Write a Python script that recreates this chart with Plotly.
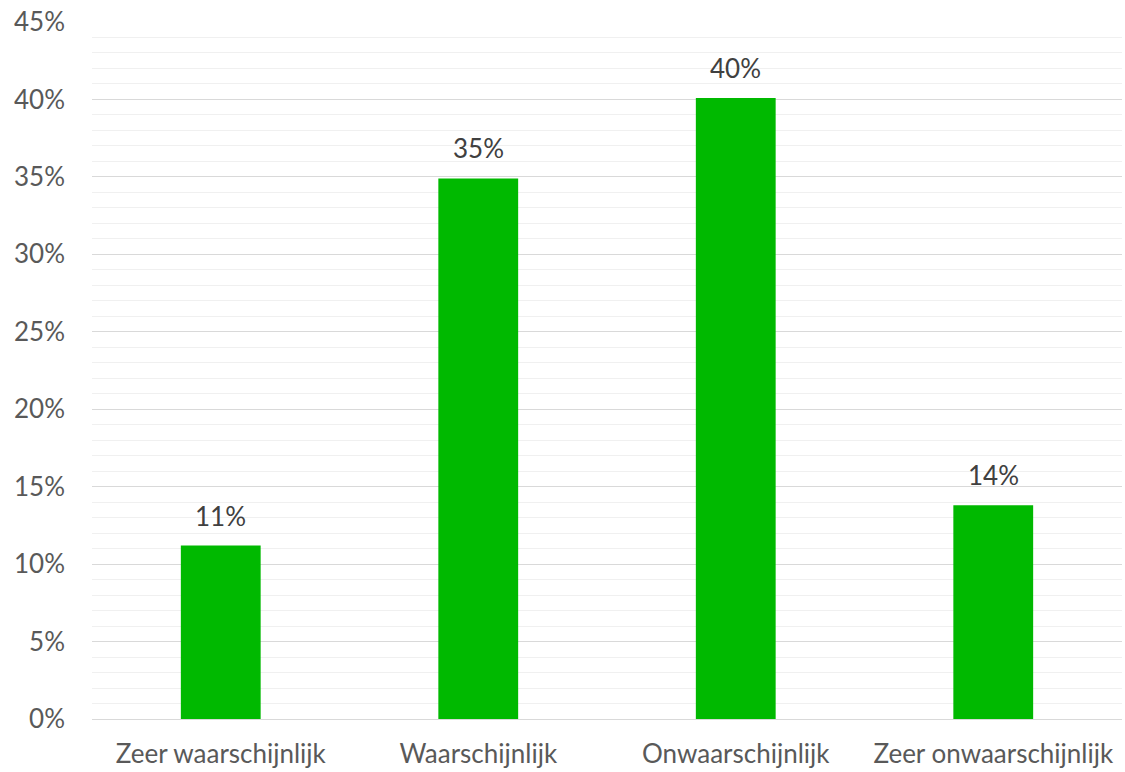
import plotly.graph_objects as go

categories = ["Zeer waarschijnlijk", "Waarschijnlijk", "Onwaarschijnlijk", "Zeer onwaarschijnlijk"]
values = [0.112, 0.349, 0.401, 0.138]
labels = ["11%", "35%", "40%", "14%"]

font_family = "Lato, Open Sans, sans-serif"

fig = go.Figure(go.Bar(x=categories, y=values, marker=dict(color="#00B900", line=dict(width=0)), hoverinfo="skip"))

for c, v, t in zip(categories, values, labels):
    fig.add_annotation(x=c, y=v, text=t, showarrow=False, yanchor="bottom", yshift=12,
                       font=dict(family=font_family, size=26, color="#404040"))

fig.update_layout(
    width=1125, height=772,
    margin=dict(l=92, r=3, t=22, b=53),
    paper_bgcolor="white", plot_bgcolor="white",
    bargap=0.69,
    showlegend=False,
    font=dict(family=font_family, size=26, color="#595959"),
)
fig.update_yaxes(range=[0, 0.45], dtick=0.05, tickformat=".0%", showgrid=True, gridcolor="#D9D9D9", gridwidth=1.3,
                 zeroline=False, showline=False, ticks="", ticklabelstandoff=26, automargin=False,
                 minor=dict(dtick=0.01, showgrid=True, gridcolor="#F0F0F0", gridwidth=1.3),
                 tickfont=dict(size=26, color="#595959"))
fig.update_xaxes(showline=True, linecolor="#D9D9D9", linewidth=1.3, ticks="", ticklabelstandoff=12, automargin=False,
                 tickfont=dict(size=26, color="#595959"))

fig.write_html("out.html", config={"displayModeBar": False},
               post_script="document.body.style.margin='0';document.body.style.overflow='hidden';")
